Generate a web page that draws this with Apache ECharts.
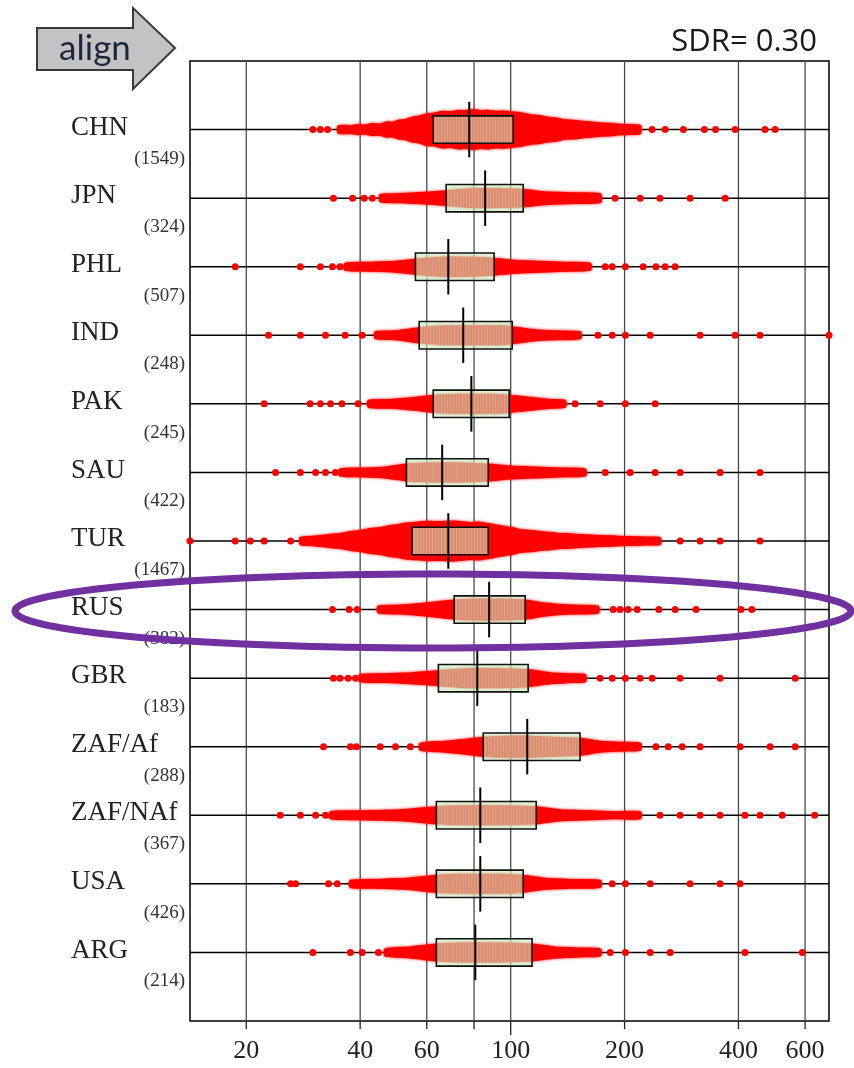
<!DOCTYPE html>
<html>
<head>
<meta charset="utf-8">
<script src="https://cdn.jsdelivr.net/npm/echarts@6/dist/echarts.min.js"></script>
<style>
html,body{margin:0;padding:0;background:#fff;}
#chart{width:854px;height:1068px;}
</style>
</head>
<body>
<div id="chart"></div>
<script>
// ---------- DATA ----------
const countries = ['CHN','JPN','PHL','IND','PAK','SAU','TUR','RUS','GBR','ZAF/Af','ZAF/NAf','USA','ARG'];
const counts = [1549,324,507,248,245,422,1467,382,183,288,367,426,214];
const q1Values = [62.4,67.5,56.0,57.3,62.4,53.0,54.9,70.9,64.4,84.6,63.6,63.6,63.6];
const medianValues = [77.7,85.6,68.4,74.9,78.7,65.9,68.4,87.7,81.6,110.6,83.1,83.1,80.6];
const q3Values = [101.5,107.9,90.4,100.9,99.1,87.2,87.2,109.2,111.2,152.5,116.8,107.9,113.9];
const gridValues = [20,40,60,80,100,200,400,600];
const tickLabels = [20,40,60,100,200,400,600];
const xMin = 14.2, xMax = 694;
const sdrText = 'SDR= 0.30';

// dense cloud outline: [value, half-thickness in row units]
const blobCHN = [[35,.045],[36.5,.055],[37.7,.05],[39.5,.065],[41.3,.06],[43,.08],[45.2,.075],[47,.105],[48.7,.1],[50.5,.13],[52.7,.14],[55,.175],[57.3,.19],[60,.225],[62.4,.23],[66,.26],[69.2,.255],[73,.275],[76,.27],[80,.285],[83.1,.27],[87,.275],[91,.26],[96,.265],[101.5,.25],[107,.235],[112.6,.21],[118,.2],[124.9,.175],[131,.165],[139.3,.135],[146,.13],[154.5,.115],[163,.105],[172.4,.09],[183,.085],[194.7,.07],[207,.065],[219.9,.055]];
const blobJPN = [[45.2,.045],[51.1,.06],[57.7,.075],[67.5,.1],[78.2,.13],[93.8,.13],[108,.117],[123.4,.0875],[143.6,.073],[172.4,.058]];
const blobPHL = [[36.5,.045],[42.6,.058],[49.6,.073],[56,.102],[65.1,.131],[78.2,.131],[89.4,.117],[102.7,.0875],[119.7,.073],[139.3,.058],[162.2,.045]];
const blobIND = [[43.9,.045],[49.6,.058],[57.3,.102],[67.1,.131],[80.6,.131],[93.8,.131],[100.9,.117],[116.1,.073],[131.1,.058],[152.7,.045]];
const blobPAK = [[42.1,.045],[48.1,.058],[56,.0875],[62.4,.117],[73.6,.131],[88.3,.131],[99.1,.117],[112.6,.0875],[127.2,.058],[139.3,.045]];
const blobSAU = [[35.4,.045],[41.3,.058],[46.6,.073],[53,.117],[61.3,.131],[73.6,.131],[87.2,.117],[99.7,.0875],[116.1,.073],[135.2,.058],[157.4,.045]];
const blobTUR = [[27.8,.045],[29.5,.06],[31.4,.073],[33.4,.09],[35.4,.102],[37.7,.13],[40,.146],[42.6,.175],[45.2,.19],[48,.22],[50.5,.233],[52.7,.255],[54.9,.262],[60,.28],[65.1,.277],[71,.285],[78.2,.262],[82,.27],[87.2,.248],[91,.23],[96.7,.204],[101,.19],[106,.16],[112,.15],[119.7,.131],[127,.12],[135.2,.102],[143,.1],[152.7,.0875],[162,.08],[172.4,.073],[186,.068],[201,.058],[213,.056],[226.7,.051],[248,.045]];
const blobRUS = [[44.7,.045],[51.1,.058],[59.4,.0875],[70.9,.131],[80.6,.146],[93.8,.146],[109.2,.131],[123.4,.0875],[143.6,.058],[170.1,.045]];
const blobGBR = [[40,.045],[46.6,.058],[54.3,.073],[64.4,.102],[76,.131],[93.8,.131],[111.2,.117],[127.2,.073],[143.6,.058],[157.4,.045]];
const blobZAFAf = [[57.7,.045],[67.1,.073],[76,.102],[84.6,.131],[96.7,.146],[112.6,.146],[131.1,.131],[152.7,.117],[172.4,.073],[194.7,.058],[219.9,.045]];
const blobZAFNAf = [[33.4,.045],[40,.058],[51.1,.073],[63.6,.117],[73.6,.131],[93.8,.131],[116.8,.117],[135.2,.073],[162.2,.058],[188.8,.045],[219.9,.045]];
const blobUSA = [[37.7,.045],[43.9,.058],[52.7,.073],[63.6,.117],[73.6,.131],[93.8,.131],[107.9,.117],[123.4,.073],[143.6,.058],[172.4,.045]];
const blobARG = [[46.6,.045],[54.3,.073],[63.6,.117],[73.6,.131],[93.8,.131],[113.9,.117],[131.1,.073],[152.7,.058],[172.4,.045]];

// isolated points in the tails
const dotsCHN = [30.0,31.4,32.8,236.5,256,286,325,348,392,470,500];
const dotsJPN = [34.0,38.2,41.0,43.1,188.8,220,248,298,369];
const dotsPHL = [18.7,27.8,31.4,33.8,35.4,177.8,185.5,201,224,242,256,272];
const dotsIND = [22.9,27.8,32.4,36.5,40.5,170.1,185.5,201,233.7,316.7,392,456,694];
const dotsPAK = [22.3,29.5,31.4,33.4,35.8,39.5,148,172.4,201,241];
const dotsSAU = [23.9,27.8,30.5,32.4,34.4,177.8,206.9,241,280.5,357.7,456];
const dotsTUR = [14.2,18.7,20.5,22.3,26.2,280.5,316.7,357.7,456];
const dotsRUS = [33.8,37.4,39.3,186.6,194.7,204.4,216,246.5,272,309,406,434];
const dotsGBR = [34.0,35.4,37.2,38.9,172.4,185.5,201,219.9,236.5,280.5,357.7,565];
const dotsZAFAf = [32.0,37.7,39.1,45.2,49.6,54.3,242,261,284,316.7,404,485,565];
const dotsZAFNAf = [24.6,27.8,30.5,32.4,248,280.5,316.7,357.7,416,456,522,636];
const dotsUSA = [26.2,27.0,33.0,34.8,185.5,201,233.7,298,357.7,404];
const dotsARG = [30.0,37.7,40.5,44.7,183.2,201,233.7,263.9,416,590];

const blobs = [blobCHN,blobJPN,blobPHL,blobIND,blobPAK,blobSAU,blobTUR,blobRUS,blobGBR,blobZAFAf,blobZAFNAf,blobUSA,blobARG];
const dots = [dotsCHN,dotsJPN,dotsPHL,dotsIND,dotsPAK,dotsSAU,dotsTUR,dotsRUS,dotsGBR,dotsZAFAf,dotsZAFNAf,dotsUSA,dotsARG];

// ---------- CHART ----------
const chart = echarts.init(document.getElementById('chart'), null, {renderer:'canvas'});
const RED = '#ff0000';
const BOX_H = 0.2, MED_H = 0.405;

const dotData = [];
dots.forEach((arr, i) => arr.forEach(v => dotData.push([v, i])));

// ellipse annotation points
const ell = [];
for (let k = 0; k < 120; k++) {
  const t = k / 120 * Math.PI * 2;
  ell.push([433 + 418 * Math.cos(t), 611 + 37 * Math.sin(t)]);
}

const option = {
  animation: false,
  backgroundColor: '#fff',
  grid: {left: 190, right: 25, top: 61, bottom: 47, show: true, borderColor: '#000', borderWidth: 1.5, backgroundColor: 'transparent'},
  xAxis: {
    type: 'log', logBase: 10, min: xMin, max: xMax,
    axisLine: {show: false},
    axisTick: {show: false},
    splitLine: {show: false},
    minorTick: {show: false},
    axisLabel: {
      customValues: tickLabels,
      formatter: v => String(Math.round(v)),
      fontFamily: 'Liberation Serif', fontSize: 26, color: '#222', margin: 17
    }
  },
  yAxis: {type: 'value', min: -1, max: 13, inverse: true, show: false},
  graphic: [
    {type: 'polygon', shape: {points: [[37,28],[133,28],[133,8],[175,48],[133,89],[133,70],[37,70]]},
     style: {fill: '#c3c3c3', stroke: '#3a3a3a', lineWidth: 2}, z: 10},
    {type: 'text', x: 95, y: 49, style: {text: 'align', font: '35px Lato', fill: '#1f2540', textAlign: 'center', textVerticalAlign: 'middle'}, z: 11},
    {type: 'text', x: 817, y: 42, style: {text: sdrText, font: '31px "Open Sans"', fill: '#1a1a1a', textAlign: 'right', textVerticalAlign: 'middle'}, z: 11},
    {type: 'polygon', shape: {points: ell}, style: {fill: 'none', stroke: '#7030a0', lineWidth: 7}, z: 100}
  ],
  series: [
    { // vertical grid lines
      type: 'custom', silent: true, z: 1,
      data: gridValues.map(v => [v, 0]),
      renderItem: (p, api) => {
        const v = api.value(0);
        const a = api.coord([v, -1]), b = api.coord([v, 13]);
        const tl = v === 100 ? 14 : 8;
        return {type: 'group', children: [
          {type: 'line', shape: {x1: a[0], y1: a[1], x2: b[0], y2: b[1]}, style: {stroke: '#4a4a4a', lineWidth: 1.3}},
          {type: 'line', shape: {x1: b[0], y1: b[1], x2: b[0], y2: b[1] + tl}, style: {stroke: '#222', lineWidth: 1.3}}
        ]};
      }
    },
    { // row base lines
      type: 'custom', silent: true, z: 2,
      data: countries.map((c, i) => [xMin, i]),
      renderItem: (p, api) => {
        const i = api.value(1);
        const a = api.coord([xMin, i]), b = api.coord([xMax, i]);
        return {type: 'line', shape: {x1: a[0], y1: a[1], x2: b[0], y2: b[1]}, style: {stroke: '#000', lineWidth: 1.5}};
      }
    },
    { // dense clouds
      type: 'custom', silent: true, z: 3,
      data: countries.map((c, i) => [medianValues[i], i]),
      renderItem: (p, api) => {
        const i = p.dataIndex;
        const prof = blobs[i];
        const top = prof.map(d => api.coord([d[0], i - d[1]]));
        const bot = prof.slice().reverse().map(d => api.coord([d[0], i + d[1]]));
        return {type: 'polygon', shape: {points: top.concat(bot), smooth: 0.2},
          style: {fill: RED, stroke: RED, lineWidth: 2, shadowBlur: 3, shadowColor: 'rgba(255,0,0,0.8)'}};
      }
    },
    { // isolated points
      type: 'scatter', silent: true, z: 4,
      data: dotData, symbolSize: 7,
      itemStyle: {color: RED, opacity: 1}
    },
    { // boxes + medians
      type: 'custom', silent: true, z: 5,
      data: countries.map((c, i) => [q1Values[i], i, medianValues[i], q3Values[i]]),
      renderItem: (p, api) => {
        const i = api.value(1);
        const a = api.coord([api.value(0), i - BOX_H]);
        const b = api.coord([api.value(3), i + BOX_H]);
        const m1 = api.coord([api.value(2), i - MED_H]);
        const m2 = api.coord([api.value(2), i + MED_H]);
        const w = b[0] - a[0], h = b[1] - a[1];
        const children = [
          {type: 'rect', shape: {x: a[0], y: a[1], width: w, height: h}, style: {fill: 'rgba(205,242,200,0.55)'}}
        ];
        for (let sx = a[0] + 2; sx < b[0] - 1; sx += 3) {
          children.push({type: 'rect', shape: {x: sx, y: a[1], width: 1, height: h}, style: {fill: 'rgba(185,232,180,0.45)'}});
        }
        children.push({type: 'rect', shape: {x: a[0], y: a[1], width: w, height: h}, style: {fill: 'none', stroke: '#111', lineWidth: 1.6}});
        children.push({type: 'line', shape: {x1: m1[0], y1: m1[1], x2: m2[0], y2: m2[1]}, style: {stroke: '#000', lineWidth: 2}});
        return {type: 'group', children};
      }
    },
    { // row labels
      type: 'custom', silent: true, z: 6, clip: false,
      data: countries.map((c, i) => [xMin, i]),
      renderItem: (p, api) => {
        const i = api.value(1);
        const pt = api.coord([xMin, i]);
        return {type: 'group', children: [
          {type: 'text', x: pt[0] - 119, y: pt[1] - 2, style: {text: countries[i], font: '27px "Liberation Serif"', fill: '#222', textAlign: 'left', textVerticalAlign: 'middle'}},
          {type: 'text', x: pt[0] - 5, y: pt[1] + 29, style: {text: '(' + counts[i] + ')', font: '19px "Liberation Serif"', fill: '#333', textAlign: 'right', textVerticalAlign: 'middle'}}
        ]};
      }
    }
  ]
};
chart.setOption(option);
</script>
</body>
</html>
